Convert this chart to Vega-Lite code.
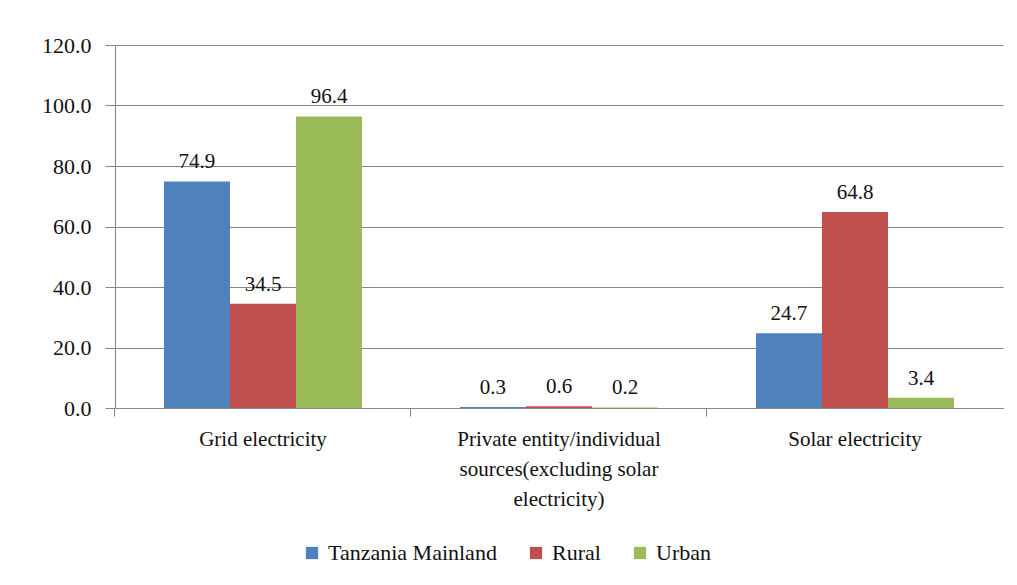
{
  "$schema": "https://vega.github.io/schema/vega-lite/v6.json",
  "width": 888,
  "height": 363,
  "autosize": "none",
  "padding": {"left": 115, "top": 45, "right": 14, "bottom": 177},
  "background": "white",
  "config": {
    "font": "Liberation Serif, Times New Roman, serif",
    "view": {"stroke": null}
  },
  "data": {
    "values": [
      {"source": "Grid electricity", "area": "Tanzania Mainland", "value": 74.9},
      {"source": "Grid electricity", "area": "Rural", "value": 34.5},
      {"source": "Grid electricity", "area": "Urban", "value": 96.4},
      {"source": "Private entity/individual sources(excluding solar electricity)", "area": "Tanzania Mainland", "value": 0.3},
      {"source": "Private entity/individual sources(excluding solar electricity)", "area": "Rural", "value": 0.6},
      {"source": "Private entity/individual sources(excluding solar electricity)", "area": "Urban", "value": 0.2},
      {"source": "Solar electricity", "area": "Tanzania Mainland", "value": 24.7},
      {"source": "Solar electricity", "area": "Rural", "value": 64.8},
      {"source": "Solar electricity", "area": "Urban", "value": 3.4}
    ]
  },
  "encoding": {
    "x": {
      "field": "source",
      "type": "nominal",
      "sort": null,
      "scale": {"paddingInner": 0.331, "paddingOuter": 0.1655},
      "axis": {
        "title": null,
        "labelAngle": 0,
        "labelFont": "Liberation Serif, Times New Roman, serif",
        "labelFontSize": 21,
        "labelColor": "#111111",
        "labelLineHeight": 30,
        "labelPadding": 12,
        "labelLimit": 0,
        "labelExpr": "datum.value == 'Private entity/individual sources(excluding solar electricity)' ? ['Private entity/individual', 'sources(excluding solar', 'electricity)'] : datum.value",
        "bandPosition": -0.2475,
        "tickSize": 8,
        "tickColor": "#868686",
        "domainColor": "#868686",
        "grid": false
      }
    },
    "xOffset": {
      "field": "area",
      "type": "nominal",
      "sort": ["Tanzania Mainland", "Rural", "Urban"],
      "scale": {"paddingInner": 0, "paddingOuter": 0}
    },
    "y": {
      "field": "value",
      "type": "quantitative",
      "scale": {"domain": [0, 120], "nice": false},
      "axis": {
        "title": null,
        "values": [0, 20, 40, 60, 80, 100, 120],
        "format": ".1f",
        "labelFont": "Liberation Serif, Times New Roman, serif",
        "labelFontSize": 22,
        "labelColor": "#111111",
        "labelPadding": 14,
        "tickSize": 10,
        "tickColor": "#868686",
        "domainColor": "#868686",
        "gridColor": "#868686",
        "gridWidth": 1
      }
    }
  },
  "layer": [
    {
      "mark": {"type": "bar"},
      "encoding": {
        "color": {
          "field": "area",
          "type": "nominal",
          "sort": ["Tanzania Mainland", "Rural", "Urban"],
          "scale": {"domain": ["Tanzania Mainland", "Rural", "Urban"], "range": ["#4F81BD", "#C0504D", "#9BBB59"]},
          "legend": {
            "title": null,
            "orient": "none",
            "direction": "horizontal",
            "legendX": 186,
            "legendY": 497,
            "symbolType": "square",
            "symbolSize": 150,
            "symbolStrokeWidth": 0,
            "labelFont": "Liberation Serif, Times New Roman, serif",
            "labelFontSize": 22,
            "labelColor": "#111111",
            "labelOffset": 5,
            "labelLimit": 0,
            "columnPadding": 28
          }
        }
      }
    },
    {
      "mark": {"type": "text", "baseline": "bottom", "dy": -9, "fontSize": 21, "font": "Liberation Serif, Times New Roman, serif", "color": "#111111"},
      "encoding": {
        "text": {"field": "value", "type": "quantitative", "format": ".1f"}
      }
    }
  ]
}
